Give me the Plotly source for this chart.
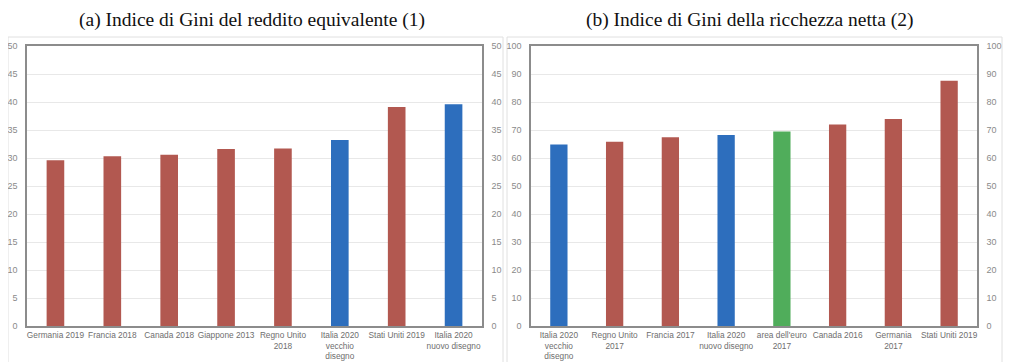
import plotly.graph_objects as go

# page has an 8px body margin; figure sized to fit the window
OFF = 8
W, H = 1016, 354

def px(x):
    return (x - OFF) / W

def py(y):
    return (H - (y - OFF)) / H

# Panel (a): Gini index of equivalent income
cat_a = ["Germania 2019", "Francia 2018", "Canada 2018", "Giappone 2013",
         "Regno Unito<br>2018", "Italia 2020<br>vecchio<br>disegno",
         "Stati Uniti 2019", "Italia 2020<br>nuovo disegno"]
val_a = [29.6, 30.3, 30.6, 31.6, 31.7, 33.2, 39.1, 39.6]
grp_a = ["o", "o", "o", "o", "o", "it", "o", "it"]

# Panel (b): Gini index of net wealth
cat_b = ["Italia 2020<br>vecchio<br>disegno", "Regno Unito<br>2017", "Francia 2017",
         "Italia 2020<br>nuovo disegno", "area dell'euro<br>2017", "Canada 2016",
         "Germania<br>2017", "Stati Uniti 2019"]
val_b = [64.8, 65.8, 67.4, 68.2, 69.5, 72.0, 73.9, 87.6]
grp_b = ["it", "o", "o", "it", "ea", "o", "o", "o"]

title_a = "(a) Indice di Gini del reddito equivalente (1)"
title_b = "(b) Indice di Gini della ricchezza netta (2)"

colors = {"o": "#b25850", "it": "#2d6ebd", "ea": "#50ad5b"}

fig = go.Figure()
fig.add_trace(go.Bar(x=cat_a, y=val_a, marker_color=[colors[g] for g in grp_a],
                     marker_line_width=0, width=0.31, xaxis="x", yaxis="y"))
fig.add_trace(go.Scatter(x=cat_a, y=val_a, mode="markers", marker_opacity=0,
                         xaxis="x", yaxis="y3", hoverinfo="skip"))
fig.add_trace(go.Bar(x=cat_b, y=val_b, marker_color=[colors[g] for g in grp_b],
                     marker_line_width=0, width=0.31, xaxis="x2", yaxis="y2"))
fig.add_trace(go.Scatter(x=cat_b, y=val_b, mode="markers", marker_opacity=0,
                         xaxis="x2", yaxis="y4", hoverinfo="skip"))

ydom = [py(326), py(46)]
tickfont = dict(family="Liberation Sans", size=9, color="#8a8a8a")
xfont = dict(family="Liberation Sans", size=8.3, color="#6e6e6e")
axline = dict(showline=True, linecolor="#8c8c8c", linewidth=1.5, automargin=False)

def yax(rng, dtick, side="left", overlay=None, grid=True):
    d = dict(domain=ydom, range=rng, dtick=dtick, side=side, tickfont=tickfont,
             showgrid=grid, gridcolor="#e8e8e8", gridwidth=1, zeroline=False,
             ticks="", ticklabelstandoff=6, fixedrange=True, **axline)
    if overlay:
        d["overlaying"] = overlay
    return d

def xax(dom, anchor):
    return dict(domain=dom, anchor=anchor, tickfont=xfont, ticks="", tickangle=0,
                mirror=True, ticklabelstandoff=0, fixedrange=True, **axline)

fig.update_layout(
    width=W, height=H, margin=dict(l=0, r=0, t=0, b=0),
    paper_bgcolor="white", plot_bgcolor="white", showlegend=False,
    xaxis=xax([px(27), px(482)], "y"),
    xaxis2=xax([px(531), px(977)], "y2"),
    yaxis=dict(anchor="x", **yax([0, 50], 5)),
    yaxis3=dict(anchor="x", **yax([0, 50], 5, "right", "y", False)),
    yaxis2=dict(anchor="x2", **yax([0, 100], 10)),
    yaxis4=dict(anchor="x2", **yax([0, 100], 10, "right", "y2", False)),
)

# panel frames
for x0, x1 in [(6, 503), (507, 1002)]:
    fig.add_shape(type="rect", xref="paper", yref="paper",
                  x0=max(px(x0), 0), x1=px(x1), y0=-0.05, y1=py(37),
                  line=dict(color="#e0e0e0", width=1), layer="below")

tfont = dict(family="Liberation Serif", size=19.5, color="#111")
fig.add_annotation(text=title_a, x=px(252), y=py(20), xref="paper", yref="paper",
                   showarrow=False, font=tfont, xanchor="center", yanchor="middle")
fig.add_annotation(text=title_b, x=px(750), y=py(20), xref="paper", yref="paper",
                   showarrow=False, font=tfont, xanchor="center", yanchor="middle")

fig.write_html("out.html")
